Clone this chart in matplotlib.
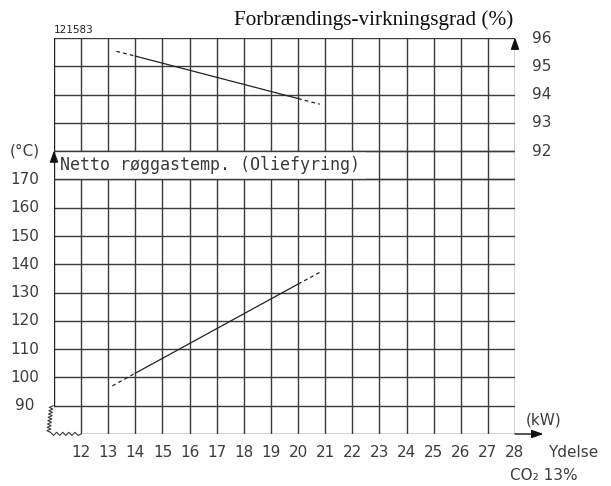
import numpy as np
import matplotlib
matplotlib.use("Agg")
import matplotlib.pyplot as plt
from matplotlib.patches import Rectangle

# ---- data ----
kw_ticks = list(range(12, 29))
temp_ticks = [90, 100, 110, 120, 130, 140, 150, 160, 170]
eff_ticks = [92, 93, 94, 95, 96]

eff_x = [13.3, 14.0, 20.0, 20.8]
eff_y = [95.53, 95.36, 93.86, 93.66]
temp_x = [13.15, 14.0, 20.0, 20.85]
temp_y = [97.0, 101.5, 133.0, 137.4]

title = "Forbrændings-virkningsgrad (%)"
series_label = "Netto røggastemp. (Oliefyring)"


def eff_to_y(p):
    # efficiency scale shares the grid: 92 % sits at 180 on the temperature scale
    return 180 + (np.asarray(p) - 92) * 10


fig = plt.figure(figsize=(6.11, 4.86), dpi=100)
ax = fig.add_axes([54 / 611, 1 - 434 / 486, 461 / 611, 396 / 486])
X0, X1, Y0, Y1 = 11, 28, 80, 220
ax.set_xlim(X0, X1)
ax.set_ylim(Y0, Y1)
ax.axis("off")

gc = "#3a3a3a"
lw = 1.0
tick_font = dict(family="DejaVu Sans", fontsize=11, color="#3c3c3c")

# vertical grid lines
for x in kw_ticks[:-1]:
    ax.plot([x, x], [Y0, Y1], color=gc, lw=lw, zorder=1)
# right border
ax.plot([X1, X1], [Y0, Y1], color="#222222", lw=lw, zorder=3)
# left border
ax.plot([X0, X0], [90, Y1], color="#222222", lw=lw, zorder=3)
# horizontal grid lines
for y in range(90, Y1 + 1, 10):
    ax.plot([X0, X1], [y, y], color=gc, lw=lw, zorder=1)
ax.plot([12, X1], [Y0, Y0], color=gc, lw=lw, zorder=1)

# label box
ax.add_patch(Rectangle((X0, 170), 22.5 - X0, 10, facecolor="white",
                       edgecolor="none", zorder=2))
for y in (170, 180):
    ax.plot([X0, X1], [y, y], color=gc, lw=lw, zorder=3)
ax.text(11.22, 175, series_label, family="DejaVu Sans Mono", fontsize=12,
        color="#3a3a3a", ha="left", va="center", zorder=4)

# zigzag break at lower-left
n = 8
t = np.linspace(0, 1, 2 * n + 1)
amp = 0.14
base = X0 - 0.03 - 0.1 * t
zx = base - amp * (np.arange(len(t)) % 2)
zy = 90 - t * (90 - 80.6)
ax.plot(zx, zy, color=gc, lw=0.8, clip_on=False, zorder=3)
m = 5
s = np.linspace(0, 1, 2 * m + 1)
hx = zx[-1] + s * (12 - zx[-1])
hy = 80.6 - 1.1 * (np.arange(len(s)) % 2)
hy[-1] = 80
ax.plot(hx, hy, color=gc, lw=0.8, clip_on=False, zorder=3)

# arrows
ap = dict(arrowstyle="-|>,head_length=0.7,head_width=0.25", color="#111111",
          lw=1.0, shrinkA=0, shrinkB=0)
ax.annotate("", xy=(X0, 180.3), xytext=(X0, 176), arrowprops=ap, zorder=5)
ax.annotate("", xy=(X1, Y1 + 0.2), xytext=(X1, Y1 - 4), arrowprops=ap, zorder=5,
            annotation_clip=False)
ax.annotate("", xy=(29.05, Y0), xytext=(X1, Y0), arrowprops=ap, zorder=5,
            annotation_clip=False)

# curves (dashed ends, solid middle)
lc = "#222222"
for xs, ys in ((eff_x, eff_to_y(eff_y)), (temp_x, temp_y)):
    ax.plot(xs[:2], ys[:2], color=lc, lw=0.9, ls=(0, (3, 2.5)), zorder=4)
    ax.plot(xs[1:3], ys[1:3], color=lc, lw=0.9, zorder=4)
    ax.plot(xs[2:], ys[2:], color=lc, lw=0.9, ls=(0, (3, 2.5)), zorder=4)

# tick labels
xt = ax.get_xaxis_transform()
for k in kw_ticks:
    ax.text(k, -18 / 396, str(k), transform=xt, ha="center", va="center",
            **tick_font)
yt = ax.get_yaxis_transform()
for v in temp_ticks:
    ax.text(-29 / 461, v, str(v), transform=yt, ha="center", va="center",
            **tick_font)
for p, yv in zip(eff_ticks, eff_to_y(eff_ticks)):
    ax.text(1 + 17 / 461, yv, str(p), transform=yt, ha="left", va="center",
            **tick_font)

# axis labels
ax.text(-29 / 461, 180, "(°C)", transform=yt, ha="center", va="center",
        **tick_font)
ax.text(28.4, 85, "(kW)", ha="left", va="center", clip_on=False, **tick_font)
ax.text(1 + 33 / 461, -18 / 396, "Ydelse", transform=ax.transAxes, ha="left",
        va="center", **tick_font)
ax.text(1 - 5 / 461, -41 / 396, "CO₂ 13%", transform=ax.transAxes, ha="left",
        va="center", **tick_font)

fig.text(513 / 611, 1 - 20 / 486, title, family="Liberation Serif",
         fontsize=15.3, ha="right", va="center", color="#111111")
fig.text(54 / 611, 1 - 30 / 486, "121583", family="DejaVu Sans",
         fontsize=7.5, ha="left", va="center", color="#222222")

fig.savefig("out.png", dpi=100, facecolor="white")
